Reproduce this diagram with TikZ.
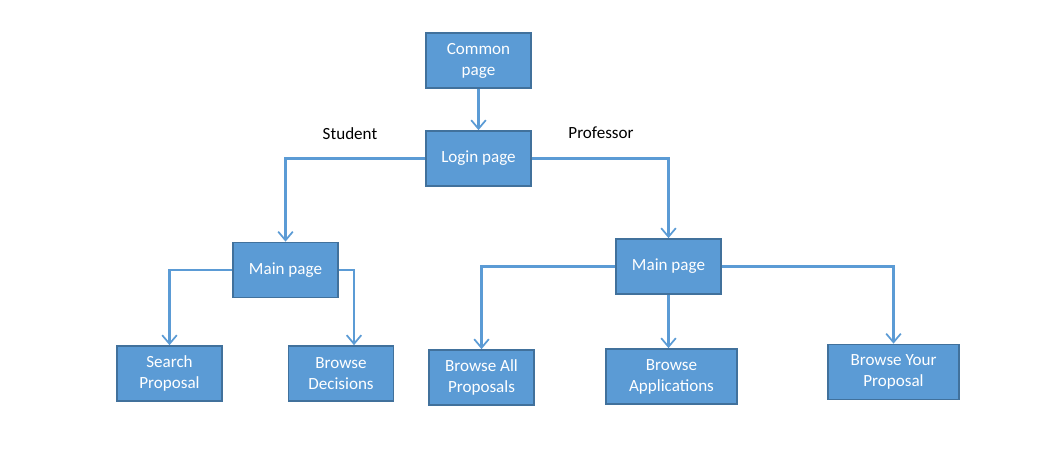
\documentclass[tikz,border=0pt]{standalone}
\usepackage{fontspec}
\setmainfont{Carlito}
\usetikzlibrary{arrows.meta}
\definecolor{boxfill}{HTML}{5B9BD5}
\definecolor{boxline}{HTML}{41719C}
\begin{document}
\begin{tikzpicture}[x=0.75pt, y=-0.75pt, every node/.style={font=\fontsize{12.8}{15.75}\selectfont}, -{Straight Barb[length=6.5pt,width=11pt,line width=1.3pt]}]
		\tikzstyle{page} = [rectangle, draw=boxline, line width=1.3pt, fill=boxfill, text=white, align=center, minimum width=78.75pt, minimum height=41.25pt, inner sep=2pt]
		\tikzstyle{wide} = [minimum width=98.25pt]
		\tikzstyle{role} = [text=black]
		\tikzstyle{link} = [draw=boxfill, line width=1.6pt]
		
		\useasboundingbox (0,0) rectangle (1060,472);
		
		\node[page] (common) at (478.5,60.5) {Common\\page};
		\node[page] (login) at (478.5,158.5) {Login page};
		\node[role] (student) at (350,134) {Student};
		\node[role] (professor) at (601,133) {Professor};
		\node[page] (mainS) at (285.5,270) {Main page};
		\node[page] (mainP) at (668.5,266.5) {Main page};
		\node[page] (search) at (169.5,373.5) {Search\\Proposal};
		\node[page] (decisions) at (341,373.5) {Browse\\Decisions};
		\node[page] (allprop) at (481.5,377.5) {Browse All\\Proposals};
		\node[page, wide] (apps) at (671.5,376.5) {Browse\\Applications};
		\node[page, wide] (yours) at (893.5,372) {Browse Your\\Proposal};
		
		\draw[link] (common) -- (login);
		\draw[link] (login.west) -| (mainS.north);
		\draw[link] (login.east) -| (mainP.north);
		\draw[link] (mainS.west) -| (search.north);
		\draw[link] (mainS.east) -| ([xshift=9.75pt]decisions.north);
		\draw[link] (mainP.west) -| (allprop.north);
		\draw[link] (mainP.south) -- (mainP.south |- apps.north);
		\draw[link] (mainP.east) -| (yours.north);
	\end{tikzpicture}
\end{document}
